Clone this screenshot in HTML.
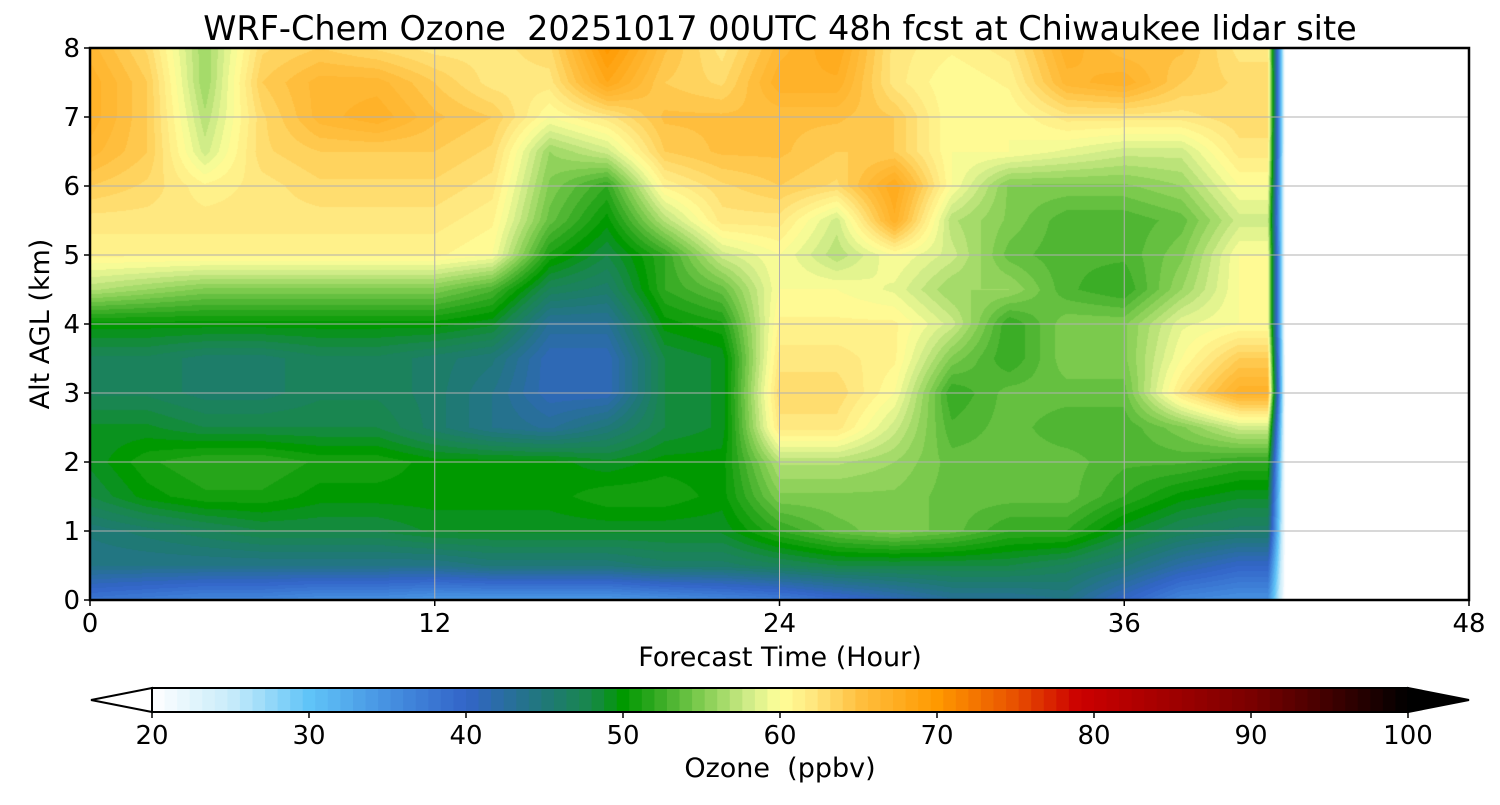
<!DOCTYPE html>
<html><head><meta charset="utf-8"><style>
body{margin:0;background:#fff;width:1500px;height:800px;overflow:hidden;font-family:"Liberation Sans","DejaVu Sans",sans-serif}
svg text{font-family:"DejaVu Sans","Liberation Sans",sans-serif;fill:#000;white-space:pre}
</style></head><body>
<svg id="s" width="1500" height="800" xmlns="http://www.w3.org/2000/svg">
<text x="780" y="40" font-size="33.5" text-anchor="middle" xml:space="preserve">WRF-Chem Ozone  20251017 00UTC 48h fcst at Chiwaukee lidar site</text>
<foreignObject x="90" y="48" width="1379" height="552"><canvas id="cv" width="1379" height="552" xmlns="http://www.w3.org/1999/xhtml" style="display:block"></canvas></foreignObject>
<g id="grid"></g>
<rect x="90" y="48" width="1379" height="552" fill="none" stroke="#000" stroke-width="2.5"/>
<g id="axes"></g>
<text x="780" y="666" font-size="27" text-anchor="middle">Forecast Time (Hour)</text>
<text transform="translate(49,324) rotate(-90)" font-size="27" text-anchor="middle">Alt AGL (km)</text>
<g id="cbar"></g>
<text x="780" y="777" font-size="27" text-anchor="middle" xml:space="preserve">Ozone  (ppbv)</text>
</svg>
<script>
const hours=[0,2,4,6,8,10,12,14,16,18,20,22,24,26,28,30,32,34,36,38,40,41,41.6];
const alts=[0,0.5,1,1.5,2,2.5,3,3.5,4,4.5,5,5.5,6,6.5,7,7.5,8];
const ozone=[
[38,37,36,36,35,35,34,34,34,34,35,36,37,39,41,43,43,44,40,36,35,35,20],
[44,44,44,44,44,44,44,45,45,45,46,46,47,48,48,48,48,47,45,42,40,40,20],
[45,46,47,48,48,48,49,49,49,49,49,49,52,54,55,54,52,52,49,47,46,46,20],
[48,50,51,51,50,50,50,50,50,51,51,50,55,55,55,54,54,54,52,50,49,49,20],
[49,51,52,52,51,51,50,50,50,49,50,50,57,57,56,54,54,54,53,53,52,52,20],
[49,49,48,48,48,48,46,44,43,45,48,49,62,62,58,53,54,53,53,55,58,58,20],
[47,47,46,46,47,47,46,44,41,41,48,49,63,63,60,52,54,54,54,62,67,67,20],
[47,47,46,46,47,47,46,45,41,41,48,49,62,62,61,55,52,55,55,60,64,64,20],
[50,50,50,50,50,50,50,49,43,43,50,51,61,61,61,58,52,55,55,59,60,60,20],
[57,56,55,55,55,55,55,53,47,46,52,54,60,60,59,56,56,53,52,56,60,60,20],
[61,61,61,61,61,61,61,60,51,48,52,58,60,57,60,58,54,53,53,55,60,60,20],
[62,62,62,62,62,62,62,61,54,50,57,62,62,58,67,57,55,53,53,54,58,58,20],
[64,63,61,62,63,63,63,62,55,52,61,63,64,63,68,60,55,55,55,56,60,60,20],
[66,64,58,63,64,64,64,63,56,58,64,65,65,64,64,60,60,59,58,58,62,62,20],
[67,64,57,63,66,67,65,64,60,62,65,65,65,65,64,60,60,62,62,62,63,63,20],
[67,64,56,64,66,66,64,62,62,68,64,63,67,67,62,60,61,66,67,64,63,63,20],
[66,63,56,63,64,63,62,62,63,70,65,62,66,68,62,61,62,67,65,65,62,62,20]];
const xTicks=[0,12,24,36,48];
const yTicks=[0,1,2,3,4,5,6,7,8];
const cbTicks=[20,30,40,50,60,70,80,90,100];
const stops=[[20,[255,255,255]],[25,[200,236,250]],[30,[96,196,248]],[35,[70,145,225]],[40,[50,100,200]],[45,[32,120,120]],[48,[24,136,74]],[50,[0,153,0]],[52,[48,168,32]],[55,[128,204,80]],[58,[208,236,136]],[60,[255,255,153]],[62,[255,232,128]],[65,[255,192,64]],[70,[255,153,0]],[75,[232,80,0]],[79,[204,0,0]],[85,[160,0,0]],[90,[122,0,0]],[95,[64,0,0]],[100,[0,0,0]]];
const X0=90,X1=1469,Y0=600,Y1=48;
const xs=h=>X0+(h/48)*(X1-X0), ys=a=>Y0-(a/8)*(Y0-Y1);
const cb=v=>152+(v-20)/80*(1408-152);
function cmap(v){v=Math.max(20,Math.min(100,v));for(let i=1;i<stops.length;i++){if(v<=stops[i][0]){const a=stops[i-1],b=stops[i],t=(v-a[0])/(b[0]-a[0]);return a[1].map((c,k)=>Math.round(c+(b[1][k]-c)*t));}}return [0,0,0];}
const q=v=>20+Math.floor((v-20)/0.8)*0.8+0.4;
function interp(arr,v){for(let i=1;i<arr.length;i++)if(v<=arr[i])return [i-1,(v-arr[i-1])/(arr[i]-arr[i-1])];return [arr.length-2,1];}
const cv=document.getElementById('cv'),ctx=cv.getContext('2d'),img=ctx.createImageData(1379,552);
const hmax=hours[hours.length-1];
for(let py=0;py<552;py++){const a=(552-py-0.5)/552*8;const [j,ty]=interp(alts,a);
 for(let px=0;px<1379;px++){const h=(px+0.5)/1379*48;const o=(py*1379+px)*4;
  if(h>hmax){img.data[o]=img.data[o+1]=img.data[o+2]=255;img.data[o+3]=255;continue;}
  const [i,tx]=interp(hours,h);
  const v=(ozone[j][i]*(1-tx)+ozone[j][i+1]*tx)*(1-ty)+(ozone[j+1][i]*(1-tx)+ozone[j+1][i+1]*tx)*ty;
  const c=cmap(q(v));img.data[o]=c[0];img.data[o+1]=c[1];img.data[o+2]=c[2];img.data[o+3]=255;}}
ctx.putImageData(img,0,0);
const NS='http://www.w3.org/2000/svg';
function mk(p,tag,at){const e=document.createElementNS(NS,tag);for(const k in at)e.setAttribute(k,at[k]);p.appendChild(e);return e;}
const grid=document.getElementById('grid'),axes=document.getElementById('axes'),cbar=document.getElementById('cbar');
xTicks.forEach(t=>{const l=mk(grid,'line',{x1:xs(t),x2:xs(t),y1:Y1,y2:Y0,stroke:'#b0b0b0','stroke-width':1});
 
 const k=mk(axes,'line',{x1:xs(t),x2:xs(t),y1:Y0,y2:Y0+6,stroke:'#000','stroke-width':1.5});
 
 const tx=mk(axes,'text',{x:xs(t),y:632,'font-size':26,'text-anchor':'middle'});tx.textContent=t;
 });
yTicks.forEach(t=>{const l=mk(grid,'line',{x1:X0,x2:X1,y1:ys(t),y2:ys(t),stroke:'#b0b0b0','stroke-width':1});
 
 const k=mk(axes,'line',{x1:X0-6,x2:X0,y1:ys(t),y2:ys(t),stroke:'#000','stroke-width':1.5});
 
 const tx=mk(axes,'text',{x:80,y:ys(t)+9,'font-size':26,'text-anchor':'end'});tx.textContent=t;
 });
for(let v=20;v<100-0.01;v+=0.8){const c=cmap(v+0.4);const r=mk(cbar,'rect',{x:cb(v),y:688,width:cb(v+0.8)-cb(v)+0.6,height:24,fill:`rgb(${c})`});
 }
const lt=mk(cbar,'polygon',{points:'152,688 91,700 152,712',fill:'#fff',stroke:'#000','stroke-width':2});

const rt=mk(cbar,'polygon',{points:'1408,688 1469,700 1408,712',fill:'#000',stroke:'#000','stroke-width':2});

const fr=mk(cbar,'rect',{x:152,y:688,width:1256,height:24,fill:'none',stroke:'#000','stroke-width':2});

cbTicks.forEach(t=>{const k=mk(cbar,'line',{x1:cb(t),x2:cb(t),y1:712,y2:718,stroke:'#000','stroke-width':1.5});
 
 const tx=mk(cbar,'text',{x:cb(t),y:744,'font-size':26,'text-anchor':'middle'});tx.textContent=t;
 });
</script>
</body></html>
